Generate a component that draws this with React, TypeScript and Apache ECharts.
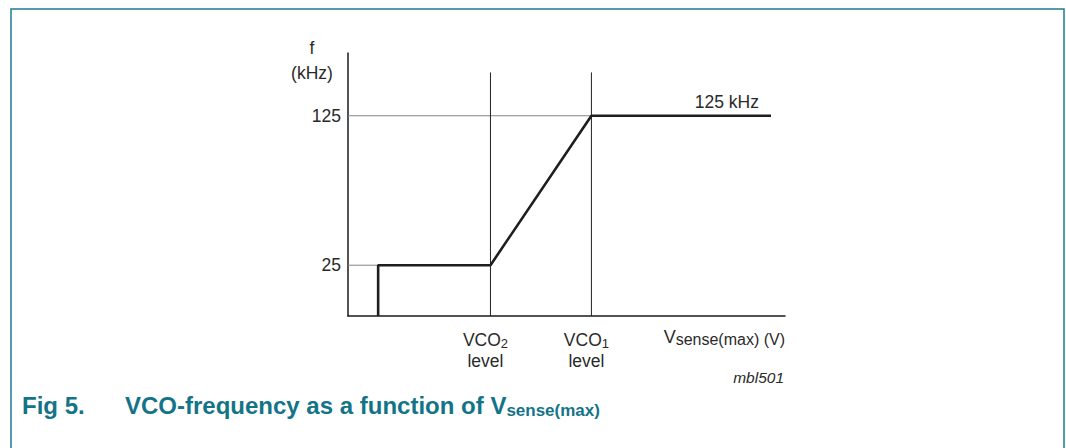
import React, { useEffect, useRef } from "react";
import * as echarts from "echarts";

// ---- data (schematic units) ----
const curveX = [0.69, 0.69, 3.26, 5.57, 9.68];
const curveY = [-9, 25, 25, 125, 125];
const levelX = [3.26, 5.57]; // VCO2 level, VCO1 level
const levelSub = ["2", "1"];
const yTicks = [25, 125];
const xMin = 0;
const xMax = 10;
const yMin = -9;
const yMax = 167;
const guideTop = 154;
const endLabel = "125 kHz";

const FONT = "'Liberation Sans', Arial, Helvetica, sans-serif";
const TEXT = "#2a2a2a";
const TEAL = "#137488";

export default function App() {
  const ref = useRef<HTMLDivElement>(null);
  useEffect(() => {
    if (!ref.current) return;
    const chart = echarts.init(ref.current, undefined, { renderer: "svg" });
    const curve = curveX.map((x, i) => [x, curveY[i]]);
    const guides: any[] = [
      {
        type: "line",
        data: [[xMin, yTicks[1]], [levelX[1], yTicks[1]]],
        symbol: "none",
        silent: true,
        lineStyle: { color: "#858585", width: 1 },
        z: 1,
      },
      {
        type: "line",
        data: [[xMin, yTicks[0]], [curveX[0], yTicks[0]]],
        symbol: "none",
        silent: true,
        lineStyle: { color: "#858585", width: 1 },
        z: 1,
      },
      ...levelX.map((lx) => ({
        type: "line",
        data: [[lx, yMin], [lx, guideTop]],
        symbol: "none",
        silent: true,
        lineStyle: { color: "#222", width: 1 },
        z: 1,
      })),
    ];
    const option: any = {
      animation: false,
      backgroundColor: "#fff",
      textStyle: { fontFamily: FONT, color: TEXT },
      title: [
        {
          text: "{a|Fig 5.}{b|VCO-frequency as a function of V}{s|sense(max)}",
          left: 22,
          top: 391,
          padding: 0,
          textStyle: {
            rich: {
              a: { fontFamily: FONT, fontWeight: "bold", fontSize: 24, color: TEAL, width: 103, lineHeight: 28 },
              b: { fontFamily: FONT, fontWeight: "bold", fontSize: 24, color: TEAL, lineHeight: 28 },
              s: { fontFamily: FONT, fontWeight: "bold", fontSize: 17, color: TEAL, lineHeight: 15, verticalAlign: "bottom" },
            },
          },
        },
        {
          text: "mbl501",
          right: 282,
          top: 369,
          padding: 0,
          textStyle: { fontFamily: FONT, fontStyle: "italic", fontWeight: "normal", fontSize: 15.5, color: TEXT },
        },
      ],
      graphic: [
        {
          type: "rect",
          shape: { x: 11, y: 9, width: 1053, height: 470 },
          style: { fill: "none", stroke: "#1f7b8d", lineWidth: 1.5 },
          silent: true,
        },
      ],
      grid: { left: 348, top: 53, width: 437, height: 263, containLabel: false },
      xAxis: {
        type: "value",
        min: xMin,
        max: xMax,
        splitLine: { show: false },
        axisTick: { show: false },
        axisLine: { show: true, onZero: false, lineStyle: { color: "#1a1a1a", width: 1.5 } },
        axisLabel: {
          customValues: levelX,
          margin: 13,
          padding: [0, 10, 0, 0],
          formatter: (v: number) => {
            const i = levelX.findIndex((x) => Math.abs(x - v) < 1e-6);
            return "{m|VCO}{s|" + (levelSub[i] ?? "") + "}\n{m|level}";
          },
          rich: {
            m: { fontFamily: FONT, fontSize: 17.5, color: TEXT, lineHeight: 21 },
            s: { fontFamily: FONT, fontSize: 13, color: TEXT, lineHeight: 12, verticalAlign: "bottom" },
          },
        },
        name: "{v|V}{s|sense(max) (V)}",
        nameLocation: "end",
        nameGap: 0,
        nameTextStyle: {
          align: "right",
          verticalAlign: "top",
          padding: [11, 0, 0, 0],
          rich: {
            v: { fontFamily: FONT, fontSize: 18, color: TEXT, lineHeight: 20 },
            s: { fontFamily: FONT, fontSize: 16, color: TEXT, lineHeight: 13, verticalAlign: "bottom" },
          },
        },
      },
      yAxis: {
        type: "value",
        min: yMin,
        max: yMax,
        splitLine: { show: false },
        axisTick: { show: false },
        axisLine: { show: true, onZero: false, lineStyle: { color: "#1a1a1a", width: 1.5 } },
        axisLabel: {
          customValues: yTicks,
          margin: 7,
          fontFamily: FONT,
          fontSize: 17.5,
          color: TEXT,
        },
        name: "f\n(kHz)",
        nameLocation: "end",
        nameGap: 18,
        nameTextStyle: {
          fontFamily: FONT,
          fontSize: 17.5,
          color: TEXT,
          lineHeight: 25,
          align: "center",
          verticalAlign: "top",
          padding: [0, 72, 0, 0],
        },
      },
      series: [
        ...guides,
        {
          type: "line",
          data: curve,
          symbol: "none",
          silent: true,
          lineStyle: { color: "#1e1e1e", width: 2.6 },
          endLabel: {
            show: true,
            formatter: endLabel,
            align: "right",
            verticalAlign: "bottom",
            distance: 0,
            offset: [-12, -5],
            fontFamily: FONT,
            fontSize: 17.5,
            color: TEXT,
          },
          z: 3,
        },
      ],
    };
    chart.setOption(option);
    return () => chart.dispose();
  }, []);
  return (
    <div style={{ position: "fixed", left: 0, top: 0, width: 1066, height: 448, background: "#fff" }}>
      <div ref={ref} style={{ width: 1066, height: 448 }} />
    </div>
  );
}
